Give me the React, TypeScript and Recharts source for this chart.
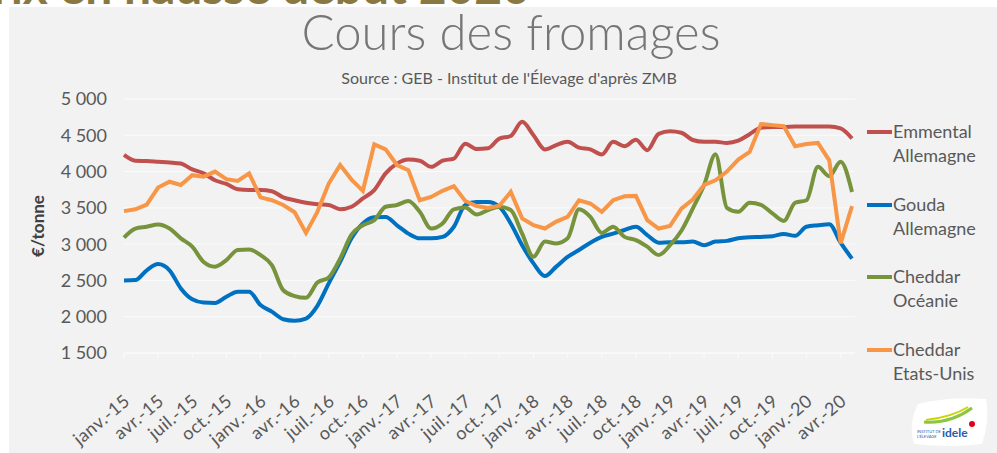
import React from 'react';
import { LineChart, Line, XAxis, YAxis, CartesianGrid } from 'recharts';

const font = 'Lato, "Open Sans", sans-serif';

// mois : janv.-15 -> mai-20
const monthNames = ['janv.', 'févr.', 'mars', 'avr.', 'mai', 'juin', 'juil.', 'août', 'sept.', 'oct.', 'nov.', 'déc.'];
const years = ['15', '16', '17', '18', '19', '20'];
const months = years.flatMap((y) => monthNames.map((m) => `${m}-${y}`)).slice(0, 65);

const emmental = [
  4230, 4150, 4145, 4135, 4125, 4110, 4030, 3975, 3880, 3830, 3755, 3745,
  3745, 3730, 3645, 3605, 3570, 3550, 3540, 3480, 3515, 3630, 3745, 3975,
  4110, 4165, 4150, 4065, 4150, 4180, 4385, 4310, 4320, 4455, 4490, 4685,
  4500, 4305, 4365, 4410, 4330, 4305, 4235, 4410, 4350, 4440, 4295, 4520,
  4555, 4535, 4435, 4410, 4410, 4395, 4425, 4515, 4605, 4615, 4615, 4620,
  4620, 4620, 4620, 4595, 4455,
];

const gouda = [
  2500, 2505, 2640, 2725, 2640, 2390, 2240, 2195, 2190, 2275, 2345, 2345,
  2160, 2070, 1965, 1945, 1975, 2150, 2460, 2755, 3080, 3285, 3370, 3375,
  3260, 3145, 3080, 3080, 3100, 3240, 3540, 3580, 3580, 3515, 3285, 2985,
  2735, 2560, 2690, 2825, 2920, 3020, 3100, 3145, 3195, 3240, 3125, 3020,
  3025, 3025, 3035, 2985, 3035, 3045, 3080, 3095, 3100, 3110, 3140, 3115,
  3240, 3260, 3275, 3020, 2800,
];

const cheddarOceanie = [
  3090, 3215, 3240, 3270, 3215, 3080, 2965, 2755, 2690, 2780, 2920, 2925,
  2850, 2710, 2365, 2285, 2260, 2470, 2540, 2800, 3130, 3260, 3330, 3515,
  3540, 3595, 3445, 3215, 3285, 3480, 3505, 3410, 3470, 3515, 3470, 3145,
  2825, 3035, 3010, 3080, 3480, 3375, 3155, 3240, 3100, 3055, 2965, 2850,
  2985, 3185, 3490, 3815, 4240, 3500, 3445, 3570, 3540, 3425, 3320, 3570,
  3605, 4065, 3935, 4135, 3720,
];

const cheddarEtatsUnis = [
  3455, 3480, 3545, 3780, 3860, 3815, 3950, 3930, 4000, 3895, 3870, 3975,
  3645, 3605, 3540, 3440, 3155, 3445, 3835, 4090, 3890, 3735, 4375, 4305,
  4090, 4020, 3605, 3650, 3735, 3800, 3595, 3525, 3500, 3530, 3720, 3355,
  3260, 3215, 3310, 3375, 3605, 3560, 3445, 3605, 3660, 3665, 3330, 3215,
  3250, 3490, 3615, 3815, 3880, 4000, 4165, 4270, 4655, 4640, 4625, 4350,
  4380, 4395, 4155, 3010, 3525,
];

const yTicks = [1500, 2000, 2500, 3000, 3500, 4000, 4500, 5000];

const data = months.map((month, i) => ({
  month,
  emmental: emmental[i],
  gouda: gouda[i],
  cheddarOceanie: cheddarOceanie[i],
  cheddarEtatsUnis: cheddarEtatsUnis[i],
}));

const series = [
  { key: 'emmental', lines: ['Emmental', 'Allemagne'], color: '#c0504d', type: 'monotone' },
  { key: 'gouda', lines: ['Gouda', 'Allemagne'], color: '#0070c0', type: 'monotone' },
  { key: 'cheddarOceanie', lines: ['Cheddar', 'Océanie'], color: '#77933c', type: 'monotone' },
  { key: 'cheddarEtatsUnis', lines: ['Cheddar', 'Etats-Unis'], color: '#f79646', type: 'linear' },
] as const;

const fmt = (v: number) => `${Math.floor(v / 1000)} ${String(v % 1000).padStart(3, '0')}`;

const XTick = ({ x, y, payload }: any) => {
  const ax = x + 7;
  const ay = y + 43;
  return (
    <text
      x={ax}
      y={ay}
      transform={`rotate(-40 ${ax} ${ay})`}
      textAnchor="end"
      fill="#595959"
      fontSize={18}
      letterSpacing={0.4}
      fontFamily={font}
    >
      {payload.value}
    </text>
  );
};

const YTick = ({ x, y, payload }: any) => (
  <text x={x} y={y} dy="0.36em" textAnchor="end" fill="#595959" fontSize={18} fontFamily={font}>
    {fmt(payload.value)}
  </text>
);

export default function App() {
  const wrapper: React.CSSProperties = {
    position: 'absolute',
    left: 0,
    top: 0,
    width: 997,
    height: 453,
    background: '#ffffff',
    overflow: 'hidden',
    fontFamily: font,
  };

  const panel: React.CSSProperties = {
    position: 'absolute',
    left: 9,
    top: 7,
    right: 0,
    bottom: 0,
    background: '#f2f2f2',
  };

  return (
    <div style={wrapper}>
      {/* titre de la diapo, coupé en haut */}
      <div style={{ position: 'absolute', left: 0, top: 0, width: 997, height: 7, overflow: 'hidden' }}>
        <div
          style={{
            position: 'absolute',
            right: 467,
            top: -24,
            fontSize: 48,
            fontWeight: 700,
            color: '#8a7843',
            whiteSpace: 'nowrap',
            lineHeight: '20px',
          }}
        >
          Prix en hausse début 2020
        </div>
      </div>
      <div style={panel} />

      <svg width={997} height={453} style={{ position: 'absolute', left: 0, top: 0 }}>
        <text x={511} y={50} textAnchor="middle" fontSize={49} fontWeight={300} fill="#767676" fontFamily={font}>
          Cours des fromages
        </text>
        <text x={509} y={84} textAnchor="middle" fontSize={16} fill="#595959" fontFamily={font}>
          Source : GEB - Institut de l'Élevage d'après ZMB
        </text>
        {/* logo idele */}
        <g>
          <path d="M918 404 Q950 396 986 399 Q990 420 982 444 Q950 448 914 444 Q908 424 918 404 Z" fill="#ffffff" />
          <path d="M924 422 Q950 424 972 408" stroke="#8cc63f" strokeWidth={3} fill="none" />
          <path d="M926 420 Q952 417 968 407" stroke="#c8d400" strokeWidth={2} fill="none" />
          <text x={942} y={437} fontSize={12} fontWeight={700} fill="#2a5caa" fontFamily={font}>idele</text>
          <text x={917} y={433} fontSize={4} fill="#2a5caa" fontFamily={font}>INSTITUT DE</text>
          <text x={917} y={438} fontSize={4} fill="#2a5caa" fontFamily={font}>L'ÉLEVAGE</text>
          <circle cx={972} cy={424} r={3} fill="#e2001a" />
        </g>
      </svg>

      <div style={{ position: 'absolute', left: 0, top: 0 }}>
        <LineChart width={997} height={453} data={data} margin={{ top: 99, right: 142, bottom: 30, left: 54 }}>
          <CartesianGrid vertical={false} stroke="#fbfbfb" strokeWidth={1} />
          <XAxis
            dataKey="month"
            interval={2}
            height={70}
            padding={{ left: 0, right: 3 }}
            axisLine={{ stroke: '#fbfbfb' }}
            tickLine={{ stroke: '#fbfbfb' }}
            tickSize={5}
            tick={<XTick />}
          />
          <YAxis
            domain={[1500, 5000]}
            ticks={yTicks}
            width={70}
            axisLine={false}
            tickLine={false}
            tickSize={0}
            tickMargin={17}
            tick={<YTick />}
            label={{
              value: '€/tonne',
              angle: -90,
              position: 'left',
              offset: 16,
              style: { fill: '#404040', fontSize: 17, fontWeight: 700, fontFamily: font, textAnchor: 'middle' },
            }}
          />
          {series.map((s) => (
            <Line
              key={s.key}
              dataKey={s.key}
              type={s.type}
              stroke={s.color}
              strokeWidth={4}
              dot={false}
              isAnimationActive={false}
            />
          ))}
        </LineChart>
      </div>

      {/* légende */}
      <div style={{ position: 'absolute', left: 867, top: 119 }}>
        {series.map((s) => (
          <div key={s.key} style={{ position: 'relative', height: 72.5 }}>
            <span
              style={{
                position: 'absolute',
                left: 0,
                top: 11,
                width: 25,
                height: 4,
                background: s.color,
              }}
            />
            <div
              style={{
                position: 'absolute',
                left: 26,
                top: 0,
                fontSize: 18,
                lineHeight: '24px',
                color: '#595959',
                whiteSpace: 'nowrap',
              }}
            >
              {s.lines.map((l) => (
                <div key={l}>{l}</div>
              ))}
            </div>
          </div>
        ))}
      </div>
    </div>
  );
}
